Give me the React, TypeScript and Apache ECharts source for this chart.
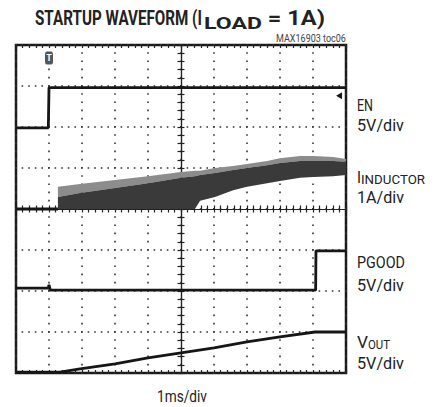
import React, { useEffect, useRef } from 'react';
import * as echarts from 'echarts';

// Horizontal unit: divisions of 1 ms; vertical unit: divisions (centre = 0)
const X_DIVS = [-5, 5];
const Y_DIVS = [-4, 4];

const EN_X = [-5, -4.02, -4.0, 5];
const EN_Y = [1.98, 1.98, 2.96, 2.96];

const IND_BASE_X = [-5, -3.73];
const IND_BASE_Y = [0, 0];

const IND_X = [-3.73, -3.06, -2.0, -1.0, 0, 0.42, 0.58, 1.03, 1.58, 2.0, 2.61, 3.0, 3.61, 4.0, 4.61, 5.0];
const IND_LOW = [0, 0, 0, 0, 0, 0, 0.2, 0.29, 0.46, 0.54, 0.63, 0.68, 0.76, 0.78, 0.8, 0.83];
const IND_DENSE = [0.29, 0.39, 0.51, 0.63, 0.76, 0.8, 0.83, 0.88, 0.95, 1.0, 1.07, 1.12, 1.17, 1.17, 1.17, 1.15];
const IND_SPIKE = [0.54, 0.61, 0.71, 0.8, 0.9, 0.93, 0.93, 1.0, 1.05, 1.1, 1.17, 1.24, 1.29, 1.29, 1.27, 1.22];

const PG_X = [-5, -4.02, -4.0, -3.96, 4.08, 4.09, 5];
const PG_Y = [-1.93, -1.93, -1.85, -1.98, -1.98, -1.02, -1.02];

const VO_X = [-5, -3.67, -3.06, -2, -1, 0, 1, 2, 3, 4.06, 5];
const VO_Y = [-3.98, -3.98, -3.9, -3.78, -3.63, -3.51, -3.39, -3.24, -3.12, -3.0, -3.0];

const TRIGGER = [-4, 3.68];
const EN_MARKER = [4.79, 2.76];

const TITLE_MAIN = 'STARTUP WAVEFORM (I';
const TITLE_SUB = 'LOAD';
const TITLE_END = ' = 1A)';
const PART_NO = 'MAX16903 toc06';
const X_UNIT = '1ms/div';

const INK = '#161616';

function measure(text: string, font: string): number {
  const ctx = document.createElement('canvas').getContext('2d');
  if (!ctx) return text.length * 8;
  ctx.font = font;
  return ctx.measureText(text).width || 1;
}

function fitText(text: string, left: number, cy: number, width: number, size: number, weight: string, color: string, family = 'Roboto') {
  const w = measure(text, `${weight} ${size}px ${family}`);
  return {
    type: 'text',
    x: left,
    y: cy,
    scaleX: width / w,
    silent: true,
    style: {
      text,
      fontSize: size,
      fontWeight: weight,
      fontFamily: family,
      fill: color,
      textAlign: 'left',
      align: 'left',
      textVerticalAlign: 'middle',
      verticalAlign: 'middle',
    },
  };
}

function pairs(xs: number[], ys: number[]) {
  return xs.map((x, i) => [x, ys[i]]);
}

export default function App() {
  const ref = useRef<HTMLDivElement>(null);
  useEffect(() => {
    document.body.style.margin = '0';
    if (!ref.current) return;
    const chart = echarts.init(ref.current, null, { renderer: 'svg' });

    const dotV = { color: '#333', width: 1.6, type: [1.6, 6.6], dashOffset: 0.8 };
    const dotH = { color: '#333', width: 1.6, type: [1.6, 5.0], dashOffset: 0.8 };
    const axisInk = { color: '#222', width: 1.2 };

    const xBase = { type: 'value', min: X_DIVS[0], max: X_DIVS[1], interval: 1, axisLabel: { show: false }, splitLine: { show: false } };
    const yBase = { type: 'value', min: Y_DIVS[0], max: Y_DIVS[1], interval: 1, axisLabel: { show: false }, splitLine: { show: false } };

    const tickSet = (len: number) => ({
      axisTick: { show: true, inside: true, length: len, lineStyle: axisInk },
      minorTick: { show: true, splitNumber: 5, length: len, lineStyle: axisInk },
    });

    const lineSeries = (name: string, data: number[][]) => ({
      name,
      type: 'line',
      data,
      symbol: 'none',
      showSymbol: false,
      lineStyle: { color: INK, width: 2.8 },
      z: 5,
    });

    const lbl = (t: string, x: number, y: number, w: number, s = 17) => fitText(t, x, y, w, s, 'normal', '#222');

    const bandRender = (_params: any, api: any) => {
      const pts = (ys: number[]) => IND_X.map((x, i) => api.coord([x, ys[i]]));
      const spike = pts(IND_SPIKE);
      const dense = pts(IND_DENSE);
      const low = pts(IND_LOW);
      return {
        type: 'group',
        children: [
          { type: 'polygon', shape: { points: spike.concat(dense.slice().reverse()) }, style: { fill: '#8c8c8c' } },
          { type: 'polygon', shape: { points: dense.concat(low.slice().reverse()) }, style: { fill: '#3a3a3a' } },
        ],
      };
    };

    chart.setOption({
      animation: false,
      backgroundColor: '#fff',
      grid: {
        left: 16,
        top: 45,
        width: 330,
        height: 328,
        show: true,
        borderColor: '#1a1a1a',
        borderWidth: 2.5,
        backgroundColor: 'transparent',
        outerBoundsMode: 'none',
        containLabel: false,
      },
      xAxis: [
        { ...xBase, position: 'bottom', axisLine: { show: true, onZero: true, onZeroAxisIndex: 0, lineStyle: axisInk }, ...tickSet(3.5), splitLine: { show: true, lineStyle: dotV } },
        { ...xBase, position: 'top', axisLine: { show: true, onZero: true, onZeroAxisIndex: 0, lineStyle: axisInk }, ...tickSet(3.5) },
        { ...xBase, position: 'bottom', axisLine: { show: false, onZero: false }, ...tickSet(3) },
        { ...xBase, position: 'top', axisLine: { show: false, onZero: false }, ...tickSet(3) },
      ],
      yAxis: [
        { ...yBase, position: 'left', axisLine: { show: true, onZero: true, onZeroAxisIndex: 0, lineStyle: axisInk }, ...tickSet(3.5), splitLine: { show: true, lineStyle: dotH } },
        { ...yBase, position: 'right', axisLine: { show: true, onZero: true, onZeroAxisIndex: 0, lineStyle: axisInk }, ...tickSet(3.5) },
      ],
      series: [
        {
          ...lineSeries('EN', pairs(EN_X, EN_Y)),
          markPoint: {
            silent: true,
            data: [
              {
                coord: TRIGGER,
                symbol: 'roundRect',
                symbolSize: [8, 13],
                itemStyle: { color: '#555' },
                label: { show: true, formatter: 'T', color: '#fff', fontSize: 9, fontWeight: 'bold', fontFamily: 'Roboto' },
              },
              {
                coord: EN_MARKER,
                symbol: 'triangle',
                symbolRotate: 90,
                symbolSize: [7, 6],
                itemStyle: { color: INK },
                label: { show: false },
              },
            ],
          },
        },
        lineSeries('IND base', pairs(IND_BASE_X, IND_BASE_Y)),
        {
          name: 'IND band',
          type: 'custom',
          renderItem: bandRender,
          data: [[0, 0]],
          silent: true,
          z: 4,
        },
        lineSeries('PGOOD', pairs(PG_X, PG_Y)),
        lineSeries('VOUT', pairs(VO_X, VO_Y)),
      ],
      graphic: [
        fitText(TITLE_MAIN, 35, 18, 167, 20, 'bold', '#222'),
        fitText(TITLE_SUB, 204, 23, 58, 17, 'bold', '#222'),
        fitText(TITLE_END, 262, 18, 63, 20, 'bold', '#222'),
        fitText(PART_NO, 276, 38, 70, 10, 'normal', '#444'),
        lbl('EN', 357, 105, 16),
        lbl('5V/div', 357, 125, 47),
        lbl('I', 357, 177, 4),
        fitText('INDUCTOR', 361, 180, 64, 13, 'normal', '#222'),
        lbl('1A/div', 357, 197, 47),
        lbl('PGOOD', 357, 262, 48),
        lbl('5V/div', 357, 285, 47),
        lbl('V', 357, 342, 11),
        fitText('OUT', 368, 345, 22, 13, 'normal', '#222'),
        lbl('5V/div', 357, 363, 47),
        lbl(X_UNIT, 157, 396, 50),
      ],
    });
    return () => chart.dispose();
  }, []);
  return <div ref={ref} style={{ position: 'absolute', left: 0, top: 0, width: 440, height: 407 }} />;
}
